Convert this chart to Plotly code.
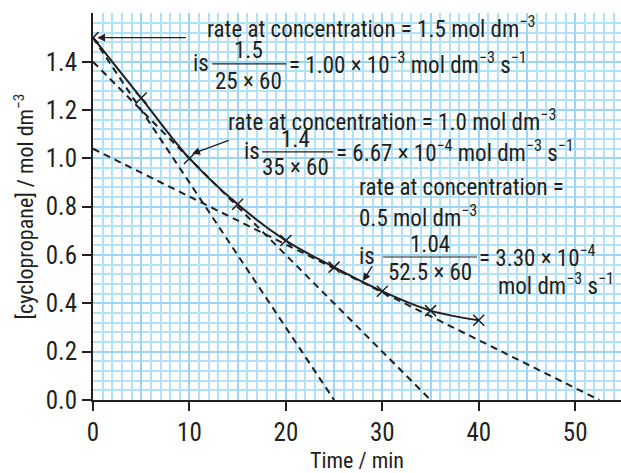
import plotly.graph_objects as go

# Measured concentration of cyclopropane over time
time_min = [0, 5, 10, 15, 20, 25, 30, 35, 40]
conc = [1.50, 1.25, 1.00, 0.81, 0.66, 0.55, 0.45, 0.37, 0.33]

# Tangents: y-intercept and x-intercept (min) of each drawn tangent
tangent_y0 = [1.5, 1.4, 1.04]
tangent_x0 = [25, 35, 52.5]

x_ticks = [0, 10, 20, 30, 40, 50]
y_ticks = [0.0, 0.2, 0.4, 0.6, 0.8, 1.0, 1.2, 1.4]

INK = "#231f20"
FONT = "Liberation Sans Narrow, Roboto Condensed, DejaVu Sans Condensed, Arial Narrow, sans-serif"
MINOR = "#b3e1f5"
MAJOR = "#9dd6f1"
ANN_SIZE = 23

fig = go.Figure()

for y0, x0 in zip(tangent_y0, tangent_x0):
    fig.add_trace(go.Scatter(
        x=[0, x0], y=[y0, 0], mode="lines",
        line=dict(color=INK, width=2, dash="7px,5px"),
        showlegend=False, hoverinfo="skip",
    ))

fig.add_trace(go.Scatter(
    x=time_min, y=conc, mode="lines+markers",
    line=dict(color=INK, width=2, shape="spline", smoothing=1.0),
    marker=dict(symbol="x-thin", size=11, line=dict(color=INK, width=1.5)),
    showlegend=False, hoverinfo="skip",
))

# carrier trace for the 5-min grid axis
fig.add_trace(go.Scatter(x=[None], y=[None], xaxis="x2", showlegend=False, hoverinfo="skip"))

x_range = [0, 54.75]
y_range = [0, 1.602]

fig.update_layout(
    width=621, height=473,
    margin=dict(l=93, r=0, t=13, b=73),
    paper_bgcolor="white", plot_bgcolor="white",
    font=dict(family=FONT, size=21, color=INK),
    xaxis=dict(
        range=x_range, tickmode="array", tickvals=x_ticks,
        ticks="outside", ticklen=9, tickwidth=1.5, tickcolor=INK,
        showline=True, linecolor=INK, linewidth=2,
        showgrid=False, zeroline=False,
        minor=dict(dtick=1, tick0=0, showgrid=True, gridcolor=MINOR, gridwidth=1.5),
        title=dict(text="Time / min", font=dict(size=22), standoff=8),
        tickfont=dict(size=25),
    ),
    xaxis2=dict(
        range=x_range, overlaying="x", tickmode="linear", dtick=5, tick0=0,
        showgrid=True, gridcolor=MAJOR, gridwidth=2,
        showticklabels=False, ticks="", showline=False, zeroline=False,
    ),
    yaxis=dict(
        range=y_range, tickmode="array", tickvals=y_ticks,
        ticktext=[f"{v:.1f}" for v in y_ticks],
        ticks="outside", ticklen=9, tickwidth=1.5, tickcolor=INK,
        showline=True, linecolor=INK, linewidth=2,
        showgrid=True, gridcolor=MAJOR, gridwidth=2, zeroline=False,
        minor=dict(dtick=0.04, tick0=0, showgrid=True, gridcolor=MINOR, gridwidth=1.5),
        title=dict(text="[cyclopropane] / mol dm<sup>−3</sup>", font=dict(size=22), standoff=6),
        tickfont=dict(size=25),
    ),
)

ann = []


def text(x, y, s, anchor="left"):
    ann.append(dict(x=x, y=y, xref="x", yref="y", text=s, showarrow=False,
                    xanchor=anchor, yanchor="middle", borderpad=0,
                    font=dict(size=ANN_SIZE, color=INK)))


def fraction(xc, y, num, den, x_left, x_right, dy_num, dy_den):
    text(xc, y + dy_num, num, "center")
    text(xc, y - dy_den, den, "center")
    fig.add_shape(type="line", x0=x_left, x1=x_right, y0=y, y1=y,
                  line=dict(color=INK, width=1.2))


# rate at 1.5 mol dm-3
text(11.74, 1.540, "rate at concentration = 1.5 mol dm<sup>−3</sup>")
text(10.29, 1.395, "is")
fraction(16.09, 1.391, "1.5", "25 × 60", 12.36, 20.03, 0.056, 0.074)
text(20.24, 1.395, "= 1.00 × 10<sup>−3</sup> mol dm<sup>−3</sup> s<sup>−1</sup>")

# rate at 1.0 mol dm-3
text(13.92, 1.159, "rate at concentration = 1.0 mol dm<sup>−3</sup>")
text(15.58, 1.027, "is")
fraction(20.96, 1.027, "1.4", "35 × 60", 17.54, 24.90, 0.050, 0.066)
text(25.11, 1.027, "= 6.67 × 10<sup>−4</sup> mol dm<sup>−3</sup> s<sup>−1</sup>")

# rate at 0.5 mol dm-3
text(27.49, 0.878, "rate at concentration =")
text(27.49, 0.758, "0.5 mol dm<sup>−3</sup>")
text(27.49, 0.592, "is")
fraction(34.95, 0.592, "1.04", "52.5 × 60", 30.08, 39.82, 0.050, 0.066)
text(39.93, 0.592, "= 3.30 × 10<sup>−4</sup>")
text(41.90, 0.480, "mol dm<sup>−3</sup> s<sup>−1</sup>")

arrow = dict(showarrow=True, arrowhead=2, arrowsize=1.1, arrowwidth=1.4,
             arrowcolor=INK, text="", xref="x", yref="y", axref="pixel", ayref="pixel")
ann.append(dict(arrow, x=0.45, y=1.5, ax=90, ay=0))
ann.append(dict(arrow, x=10.29, y=1.019, ax=38, ay=-14))
ann.append(dict(arrow, x=28.0, y=0.493, ax=10, ay=-16))

fig.update_layout(annotations=ann)

fig.write_html("out.html")
